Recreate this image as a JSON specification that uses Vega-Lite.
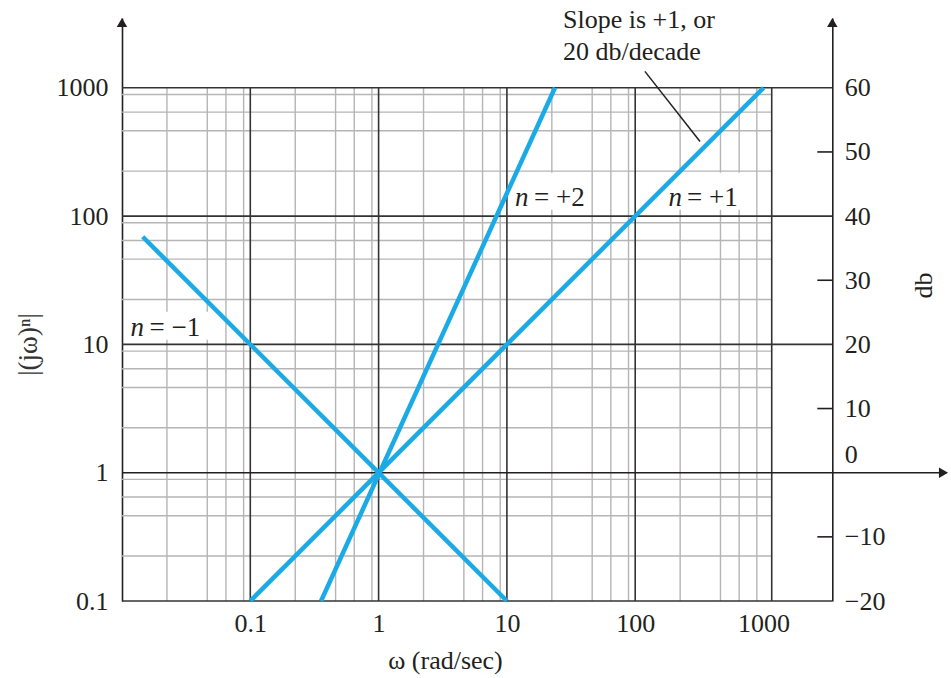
{
  "$schema": "https://vega.github.io/schema/vega-lite/v6.json",
  "width": 826,
  "height": 583,
  "autosize": {"type": "none"},
  "padding": {"left": 122, "top": 18, "right": 3, "bottom": 77},
  "background": "white",
  "config": {
    "view": {"stroke": null},
    "axis": {
      "labelFont": "Liberation Serif",
      "titleFont": "Liberation Serif",
      "labelColor": "#231f20",
      "titleColor": "#231f20",
      "labelFontSize": 26,
      "titleFontSize": 26,
      "titleFontWeight": "normal",
      "grid": false,
      "ticks": false,
      "tickSize": 0,
      "labelFlush": false,
      "labelOverlap": false,
      "domainColor": "#231f20",
      "domainWidth": 1.6
    }
  },
  "datasets": {
    "vminor": [
      {"w": 0.0224}, {"w": 0.0462}, {"w": 0.0646}, {"w": 0.0887},
      {"w": 0.224}, {"w": 0.462}, {"w": 0.646}, {"w": 0.887},
      {"w": 2.24}, {"w": 4.62}, {"w": 6.46}, {"w": 8.87},
      {"w": 22.4}, {"w": 46.2}, {"w": 64.6}, {"w": 88.7},
      {"w": 224}, {"w": 462}, {"w": 646}, {"w": 887}
    ],
    "vmajor": [{"w": 0.1}, {"w": 1}, {"w": 10}, {"w": 100}, {"w": 1159}],
    "hminor": [
      {"m": 0.224}, {"m": 0.462}, {"m": 0.646}, {"m": 0.887},
      {"m": 2.24}, {"m": 4.62}, {"m": 6.46}, {"m": 8.87},
      {"m": 22.4}, {"m": 46.2}, {"m": 64.6}, {"m": 88.7},
      {"m": 224}, {"m": 462}, {"m": 646}, {"m": 887}
    ],
    "hmajor": [{"m": 0.1}, {"m": 10}, {"m": 100}, {"m": 1000}],
    "boxes": [
      {"w0": 0.01094, "w1": 0.0503, "m0": 10.88, "m1": 17.98},
      {"w0": 11.15, "w1": 45.2, "m0": 112.2, "m1": 217.9},
      {"w0": 161.8, "w1": 730.6, "m0": 112.2, "m1": 217.9}
    ],
    "asymptotes": [
      {"n": "−1", "w": 0.0145, "m": 69},
      {"n": "−1", "w": 10, "m": 0.1},
      {"n": "+1", "w": 0.1, "m": 0.1},
      {"n": "+1", "w": 1000, "m": 1000},
      {"n": "+2", "w": 0.356, "m": 0.1},
      {"n": "+2", "w": 23.7, "m": 1000}
    ],
    "leader": [{"w": 119, "m": 1342, "w2": 320, "m2": 382}],
    "note": [
      {"w": 27.37, "m": 2925, "t": "Slope is +1, or"},
      {"w": 27.37, "m": 1635, "t": "20 db/decade"}
    ],
    "nvalue": [
      {"w": 0.01638, "m": 11.69, "t": "= −1"},
      {"w": 16.27, "m": 119, "t": "= +2"},
      {"w": 253.4, "m": 120.5, "t": "= +1"}
    ],
    "nsymbol": [
      {"w": 0.01165, "m": 11.69},
      {"w": 11.56, "m": 119},
      {"w": 181.8, "m": 120.5}
    ],
    "uparrows": [{"w": 0.01, "m": 3228}, {"w": 3438, "m": 3228}],
    "rightarrow": [{"w": 25290, "m": 1}],
    "dbticks": [{"db": -10}, {"db": 10}, {"db": 30}, {"db": 50}]
  },
  "layer": [
    {
      "layer": [
        {
          "data": {"name": "asymptotes"},
          "mark": {"type": "line", "opacity": 0, "strokeWidth": 0},
          "encoding": {
            "x": {
              "field": "w", "type": "quantitative",
              "scale": {"type": "log", "domain": [0.01, 27416], "nice": false},
              "axis": {
                "values": [0.1, 1, 10, 100, 1000],
                "format": "~g",
                "domain": false,
                "labelPadding": 30,
                "labelBaseline": "alphabetic",
                "title": "ω (rad/sec)",
                "titleX": 323,
                "titleY": 67.5,
                "titleAlign": "center",
                "titleBaseline": "alphabetic"
              }
            },
            "y": {
              "field": "m", "type": "quantitative",
              "scale": {"type": "log", "domain": [0.1, 3499.6], "nice": false},
              "axis": {
                "values": [0.1, 1, 10, 100, 1000],
                "format": "~g",
                "domain": true,
                "labelPadding": 14,
                "title": "|(jω)ⁿ|",
                "titleFontSize": 27,
                "titleColor": "#333333",
                "titleX": -94,
                "titleY": 326,
                "titleAngle": -90,
                "titleAlign": "center",
                "titleBaseline": "middle"
              }
            },
            "detail": {"field": "n", "type": "nominal"}
          }
        },
        {
          "data": {"name": "vminor"},
          "mark": {"type": "rule", "color": "#b5b5b5", "strokeWidth": 1.4},
          "encoding": {
            "x": {"field": "w", "type": "quantitative", "scale": {"type": "log", "domain": [0.01, 27416], "nice": false}},
            "y": {"datum": 0.1, "type": "quantitative", "scale": {"type": "log", "domain": [0.1, 3499.6], "nice": false}},
            "y2": {"datum": 1000}
          }
        },
        {
          "data": {"name": "hminor"},
          "mark": {"type": "rule", "color": "#b5b5b5", "strokeWidth": 1.4},
          "encoding": {
            "y": {"field": "m", "type": "quantitative", "scale": {"type": "log", "domain": [0.1, 3499.6], "nice": false}},
            "x": {"datum": 0.01, "type": "quantitative", "scale": {"type": "log", "domain": [0.01, 27416], "nice": false}},
            "x2": {"datum": 1159}
          }
        },
        {
          "data": {"name": "vmajor"},
          "mark": {"type": "rule", "color": "#333333", "strokeWidth": 1.6},
          "encoding": {
            "x": {"field": "w", "type": "quantitative", "scale": {"type": "log", "domain": [0.01, 27416], "nice": false}},
            "y": {"datum": 0.1, "type": "quantitative", "scale": {"type": "log", "domain": [0.1, 3499.6], "nice": false}},
            "y2": {"datum": 1000}
          }
        },
        {
          "data": {"name": "hmajor"},
          "mark": {"type": "rule", "color": "#333333", "strokeWidth": 1.6},
          "encoding": {
            "y": {"field": "m", "type": "quantitative", "scale": {"type": "log", "domain": [0.1, 3499.6], "nice": false}},
            "x": {"datum": 0.01, "type": "quantitative", "scale": {"type": "log", "domain": [0.01, 27416], "nice": false}},
            "x2": {"datum": 3438}
          }
        },
        {
          "data": {"values": [{}]},
          "mark": {"type": "rule", "color": "#231f20", "strokeWidth": 1.6},
          "encoding": {
            "y": {"datum": 1, "type": "quantitative", "scale": {"type": "log", "domain": [0.1, 3499.6], "nice": false}},
            "x": {"datum": 0.01, "type": "quantitative", "scale": {"type": "log", "domain": [0.01, 27416], "nice": false}},
            "x2": {"datum": 23750}
          }
        },
        {
          "data": {"name": "boxes"},
          "mark": {"type": "rect", "color": "white"},
          "encoding": {
            "x": {"field": "w0", "type": "quantitative", "scale": {"type": "log", "domain": [0.01, 27416], "nice": false}},
            "x2": {"field": "w1"},
            "y": {"field": "m0", "type": "quantitative", "scale": {"type": "log", "domain": [0.1, 3499.6], "nice": false}},
            "y2": {"field": "m1"}
          }
        },
        {
          "data": {"name": "asymptotes"},
          "mark": {"type": "line", "color": "#1aaae6", "strokeWidth": 4.5, "strokeCap": "butt"},
          "encoding": {
            "x": {"field": "w", "type": "quantitative", "scale": {"type": "log", "domain": [0.01, 27416], "nice": false}},
            "y": {"field": "m", "type": "quantitative", "scale": {"type": "log", "domain": [0.1, 3499.6], "nice": false}},
            "detail": {"field": "n", "type": "nominal"}
          }
        },
        {
          "data": {"name": "leader"},
          "mark": {"type": "rule", "color": "#231f20", "strokeWidth": 1.5},
          "encoding": {
            "x": {"field": "w", "type": "quantitative", "scale": {"type": "log", "domain": [0.01, 27416], "nice": false}},
            "x2": {"field": "w2"},
            "y": {"field": "m", "type": "quantitative", "scale": {"type": "log", "domain": [0.1, 3499.6], "nice": false}},
            "y2": {"field": "m2"}
          }
        },
        {
          "data": {"name": "note"},
          "mark": {"type": "text", "font": "Liberation Serif", "fontSize": 26, "color": "#231f20", "align": "left", "baseline": "alphabetic"},
          "encoding": {
            "x": {"field": "w", "type": "quantitative", "scale": {"type": "log", "domain": [0.01, 27416], "nice": false}},
            "y": {"field": "m", "type": "quantitative", "scale": {"type": "log", "domain": [0.1, 3499.6], "nice": false}},
            "text": {"field": "t"}
          }
        },
        {
          "data": {"name": "nvalue"},
          "mark": {"type": "text", "font": "Liberation Serif", "fontSize": 27, "color": "#231f20", "align": "left", "baseline": "alphabetic"},
          "encoding": {
            "x": {"field": "w", "type": "quantitative", "scale": {"type": "log", "domain": [0.01, 27416], "nice": false}},
            "y": {"field": "m", "type": "quantitative", "scale": {"type": "log", "domain": [0.1, 3499.6], "nice": false}},
            "text": {"field": "t"}
          }
        },
        {
          "data": {"name": "nsymbol"},
          "mark": {"type": "text", "font": "Liberation Serif", "fontSize": 27, "fontStyle": "italic", "color": "#231f20", "align": "left", "baseline": "alphabetic"},
          "encoding": {
            "x": {"field": "w", "type": "quantitative", "scale": {"type": "log", "domain": [0.01, 27416], "nice": false}},
            "y": {"field": "m", "type": "quantitative", "scale": {"type": "log", "domain": [0.1, 3499.6], "nice": false}},
            "text": {"value": "n"}
          }
        },
        {
          "data": {"name": "uparrows"},
          "mark": {"type": "point", "shape": "triangle-up", "size": 110, "filled": true, "opacity": 1, "color": "#231f20"},
          "encoding": {
            "x": {"field": "w", "type": "quantitative", "scale": {"type": "log", "domain": [0.01, 27416], "nice": false}},
            "y": {"field": "m", "type": "quantitative", "scale": {"type": "log", "domain": [0.1, 3499.6], "nice": false}}
          }
        },
        {
          "data": {"name": "rightarrow"},
          "mark": {"type": "point", "shape": "triangle-right", "size": 110, "filled": true, "opacity": 1, "color": "#231f20"},
          "encoding": {
            "x": {"field": "w", "type": "quantitative", "scale": {"type": "log", "domain": [0.01, 27416], "nice": false}},
            "y": {"field": "m", "type": "quantitative", "scale": {"type": "log", "domain": [0.1, 3499.6], "nice": false}}
          }
        }
      ]
    },
    {
      "data": {"name": "dbticks"},
      "mark": {"type": "rule", "color": "#231f20", "strokeWidth": 1.6},
      "encoding": {
        "x": {"datum": 2626, "type": "quantitative", "scale": {"type": "log", "domain": [0.01, 27416], "nice": false}},
        "x2": {"datum": 3438},
        "y": {
          "field": "db", "type": "quantitative",
          "scale": {"type": "linear", "domain": [-20, 70.88], "nice": false, "zero": false},
          "axis": {
            "orient": "right",
            "offset": -115.7,
            "values": [-20, -10, 0, 10, 20, 30, 40, 50, 60],
            "domain": true,
            "labelPadding": 12,
            "labelOffset": {"condition": {"test": "datum.value === 0", "value": -18}, "value": 0},
            "title": "db",
            "titleX": 90.7,
            "titleY": 267,
            "titleAngle": -90,
            "titleAlign": "center",
            "titleBaseline": "middle"
          }
        }
      }
    }
  ],
  "resolve": {"scale": {"y": "independent"}}
}
